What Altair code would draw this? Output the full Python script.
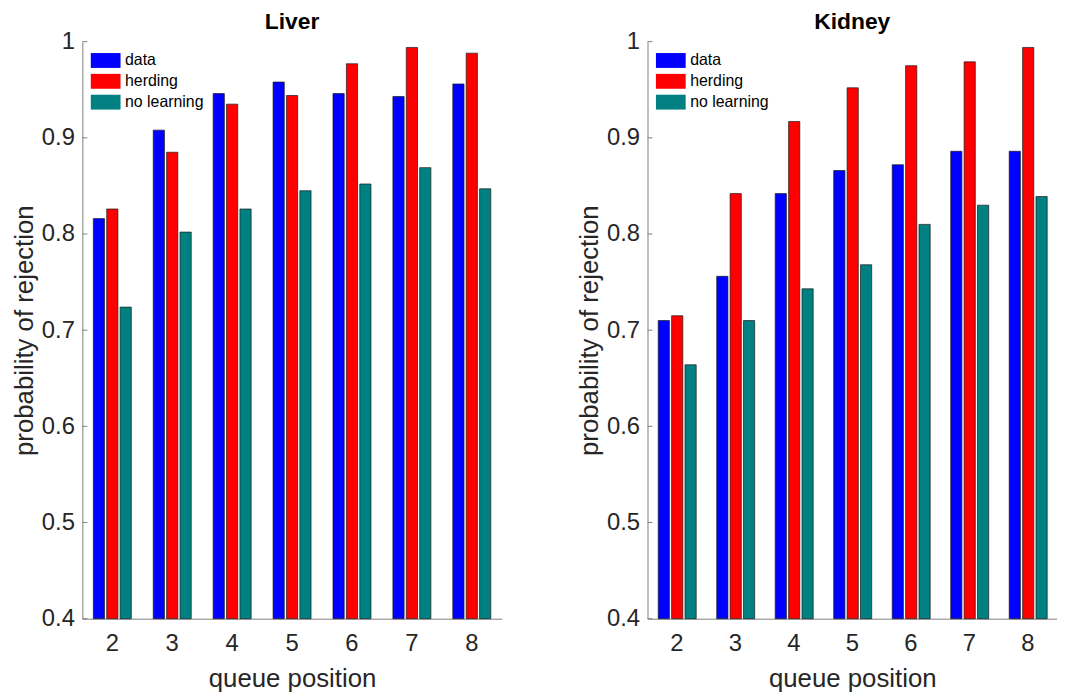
import altair as alt
import pandas as pd

positions = [2, 3, 4, 5, 6, 7, 8]
series = ["data", "herding", "no learning"]
colors = ["#0000FF", "#FF0000", "#008080"]
y_ticks = [0.4, 0.5, 0.6, 0.7, 0.8, 0.9, 1.0]

liver_data = [0.816, 0.908, 0.946, 0.958, 0.946, 0.943, 0.956]
liver_herding = [0.826, 0.885, 0.935, 0.944, 0.977, 0.994, 0.988]
liver_nolearn = [0.724, 0.802, 0.826, 0.845, 0.852, 0.869, 0.847]

kidney_data = [0.710, 0.756, 0.842, 0.866, 0.872, 0.886, 0.886]
kidney_herding = [0.715, 0.842, 0.917, 0.952, 0.975, 0.979, 0.994]
kidney_nolearn = [0.664, 0.710, 0.743, 0.768, 0.810, 0.830, 0.839]

def build(vals):
    rows = []
    for s, arr in zip(series, vals):
        for p, v in zip(positions, arr):
            rows.append({"position": p, "series": s, "value": v})
    return pd.DataFrame(rows)

liver_df = build([liver_data, liver_herding, liver_nolearn])
kidney_df = build([kidney_data, kidney_herding, kidney_nolearn])
ticks_df = pd.DataFrame({"value": y_ticks})

FONT = "Liberation Sans"

def panel(df, title, width):
    yscale = alt.Scale(domain=[0.4, 1.0], zero=False, nice=False)
    bars = alt.Chart(df).mark_bar(stroke="#1a1a1a", strokeWidth=0.7).encode(
        x=alt.X("position:O",
                scale=alt.Scale(paddingInner=0.366, paddingOuter=0.183),
                axis=alt.Axis(title="queue position", labelAngle=0, ticks=False,
                              labelPadding=13, titlePadding=10)),
        xOffset=alt.XOffset("series:N", sort=series,
                            scale=alt.Scale(paddingInner=0.163, paddingOuter=0)),
        y=alt.Y("value:Q", scale=yscale,
                axis=alt.Axis(title="probability of rejection",
                              values=y_ticks,
                              format=".1~f", ticks=False, labelPadding=8,
                              titlePadding=4)),
        y2=alt.datum(0.4),
        color=alt.Color("series:N", sort=series,
                        scale=alt.Scale(domain=series, range=colors),
                        legend=alt.Legend(title=None, orient="none", legendX=8, legendY=11,
                                          symbolType="M-1,-1H3V1H-1Z",
                                          symbolSize=225, symbolStrokeWidth=0,
                                          labelFontSize=16, labelFont=FONT,
                                          labelColor="#000000", labelOffset=19,
                                          rowPadding=5, padding=0)),
    )
    inner_ticks = alt.Chart(ticks_df).mark_rule(color="#808080", strokeWidth=1).encode(
        y=alt.Y("value:Q", scale=yscale),
        x=alt.value(0), x2=alt.value(5),
    )
    return alt.layer(bars, inner_ticks).properties(
        width=width, height=582,
        title=alt.TitleParams(title, fontSize=23, fontWeight="bold", font=FONT,
                              color="#000000", offset=-8, dy=-4),
    )

left = panel(liver_df, "Liver", 423)
right = panel(kidney_df, "Kidney", 413)

chart = alt.hconcat(left, right, spacing=75).resolve_scale(
    color="independent"
).resolve_legend(color="independent").properties(
    padding={"left": 3, "top": 0, "right": 0, "bottom": 0}
).configure_view(stroke=None).configure_axis(
    grid=False, domainColor="#808080", domainWidth=1,
    labelFont=FONT, labelFontSize=24, labelColor="#262626",
    titleFont=FONT, titleFontSize=26, titleFontWeight="normal", titleColor="#262626",
)

chart.save("out.html", embed_options={"renderer": "svg", "actions": False})
